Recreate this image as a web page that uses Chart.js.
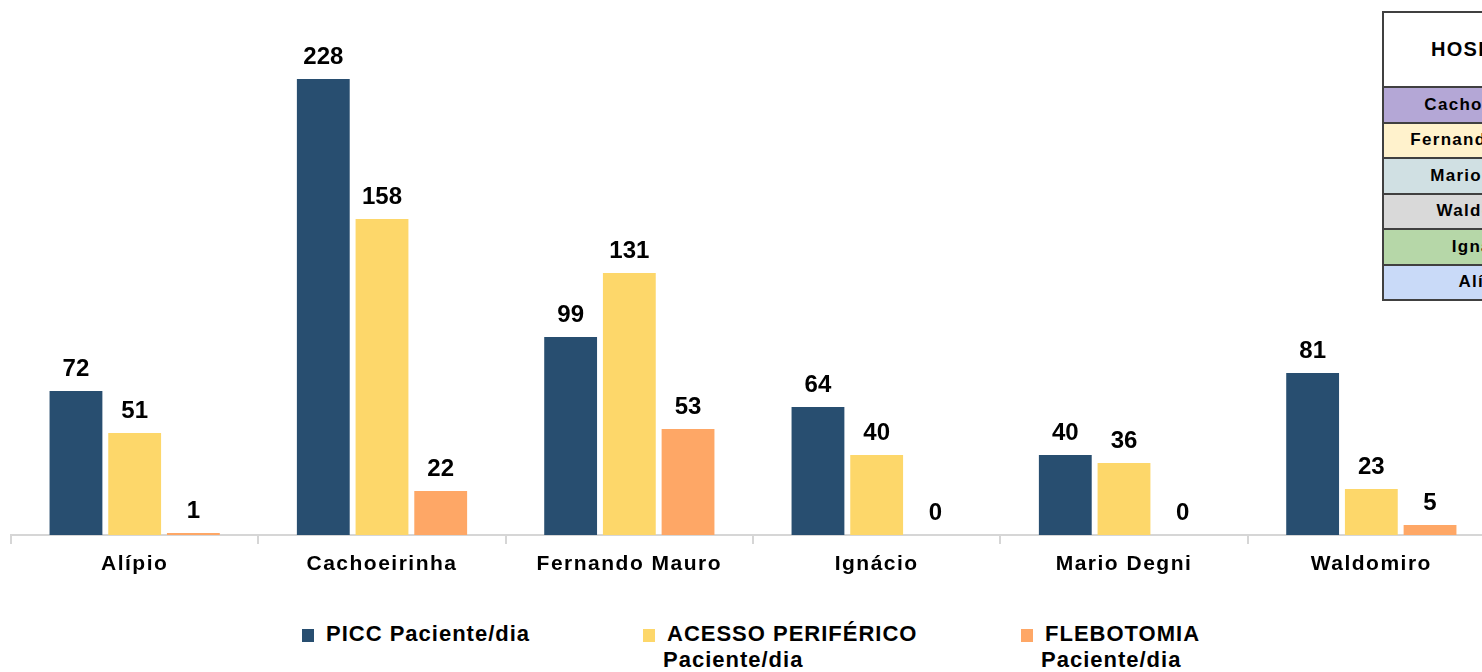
<!DOCTYPE html>
<html>
<head>
<meta charset="utf-8">
<script src="https://cdn.jsdelivr.net/npm/chart.js@4/dist/chart.umd.min.js"></script>
<style>
    html, body { margin: 0; padding: 0; background: #fff; overflow: hidden; width: 1482px; height: 672px; }
    #wrap { position: relative; width: 1482px; height: 672px; overflow: hidden; font-family: "Liberation Sans", Arial, sans-serif; }
    #chart { position: absolute; left: 0; top: 0; }
    .leg { position: absolute; top: 621px; font-weight: bold; font-size: 22px; letter-spacing: 1px; line-height: 26px; color: #000; text-indent: -20px; }
    .leg .sw { display: inline-block; width: 12px; height: 13px; margin-right: 12px; vertical-align: -1px; text-indent: 0; }
    #hosp { position: absolute; left: 1382px; top: 11px; width: 208px; border-collapse: collapse; font-weight: bold; font-size: 17px; letter-spacing: 1.3px; }
    #hosp td { border: 2px solid #404040; text-align: center; padding: 0; height: 33.5px; }
    #hosp td.head { height: 73px; font-size: 20px; background: #fff; }
</style>
</head>
<body>
<div id="wrap">
    <canvas id="chart" width="1500" height="600"></canvas>
    <div id="legend"></div>
    <table id="hosp"></table>
</div>
<script>
// categories and series
const hospitals = ['Alípio', 'Cachoeirinha', 'Fernando Mauro', 'Ignácio', 'Mario Degni', 'Waldomiro'];
const picc = [72, 228, 99, 64, 40, 81];
const acessoPeriferico = [51, 158, 131, 40, 36, 23];
const flebotomia = [1, 22, 53, 0, 0, 5];

const seriesNames = ['PICC Paciente/dia', 'ACESSO PERIFÉRICO Paciente/dia', 'FLEBOTOMIA Paciente/dia'];
const seriesColors = ['#284e70', '#fdd76a', '#fea766'];

// side table
const tableTitle = 'HOSPITAL';
const tableRows = ['Cachoeirinha', 'Fernando Mauro', 'Mario Degni', 'Waldomiro', 'Ignácio', 'Alípio'];
const tableColors = ['#b4a7d6', '#fff2cc', '#d0e0e3', '#d9d9d9', '#b6d7a8', '#c9daf8'];

/**
 * Draw value labels above each bar
 */
const valueLabels = {
    id: 'valueLabels',
    afterDatasetsDraw(chart) {
        const ctx = chart.ctx;
        ctx.save();
        ctx.font = 'bold 24px "Liberation Sans", Arial, sans-serif';
        ctx.fillStyle = '#000';
        ctx.textAlign = 'center';
        ctx.textBaseline = 'middle';
        chart.data.datasets.forEach((ds, i) => {
            chart.getDatasetMeta(i).data.forEach((bar, j) => {
                ctx.fillText(String(ds.data[j]), bar.x, bar.y - 22);
            });
        });
        ctx.restore();
    }
};

/**
 * Spaced lettering for the category labels only
 */
const axisSpacing = {
    id: 'axisSpacing',
    beforeDraw(chart) { chart.ctx.letterSpacing = '1.5px'; },
    beforeDatasetsDraw(chart) { chart.ctx.letterSpacing = '0px'; }
};

new Chart(document.getElementById('chart'), {
    type: 'bar',
    data: {
        labels: hospitals,
        datasets: [picc, acessoPeriferico, flebotomia].map((values, i) => ({
            label: seriesNames[i],
            data: values,
            backgroundColor: seriesColors[i],
            borderWidth: 0,
            categoryPercentage: 0.712,
            barPercentage: 0.9
        }))
    },
    options: {
        responsive: false,
        animation: false,
        devicePixelRatio: 1,
        layout: { padding: { top: 35, left: 11, right: 5, bottom: 0 } },
        plugins: {
            legend: { display: false },
            tooltip: { enabled: false }
        },
        scales: {
            x: {
                afterFit(scale) { scale.height = 65; },
                grid: {
                    display: true,
                    drawOnChartArea: false,
                    drawTicks: true,
                    tickLength: 9,
                    color: '#d6d6d6',
                    lineWidth: 2
                },
                border: { display: true, color: '#d6d6d6', width: 2 },
                ticks: {
                    color: '#000',
                    padding: 8,
                    font: { family: '"Liberation Sans", Arial, sans-serif', size: 21, weight: 'bold' }
                }
            },
            y: {
                display: false,
                min: 0,
                max: 250
            }
        }
    },
    plugins: [valueLabels, axisSpacing]
});

// legend (html so the long names can wrap like the original)
const legendPos = [
    { left: 322, width: 280 },
    { left: 663, width: 300 },
    { left: 1041, width: 210 }
];
const legend = document.getElementById('legend');
seriesNames.forEach((name, i) => {
    const item = document.createElement('div');
    item.className = 'leg';
    item.style.left = legendPos[i].left + 'px';
    item.style.width = legendPos[i].width + 'px';
    const sw = document.createElement('span');
    sw.className = 'sw';
    sw.style.background = seriesColors[i];
    item.appendChild(sw);
    item.appendChild(document.createTextNode(name));
    legend.appendChild(item);
});

// hospital table
const table = document.getElementById('hosp');
const headRow = table.insertRow();
const headCell = headRow.insertCell();
headCell.className = 'head';
headCell.textContent = tableTitle;
tableRows.forEach((name, i) => {
    const cell = table.insertRow().insertCell();
    cell.textContent = name;
    cell.style.background = tableColors[i];
});
</script>
</body>
</html>
